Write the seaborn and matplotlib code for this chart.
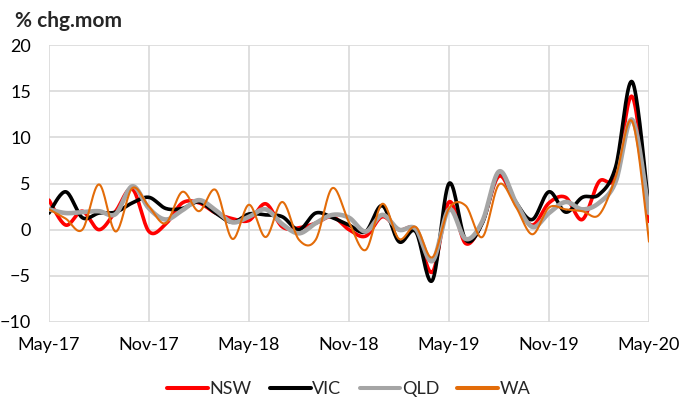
import numpy as np
import pandas as pd
import matplotlib
matplotlib.use('Agg')
import matplotlib.pyplot as plt
import seaborn as sns

# monthly % change, May-17 .. May-20
months = list(range(37))
tick_pos = [0, 6, 12, 18, 24, 30, 36]
tick_labels = ['May-17', 'Nov-17', 'May-18', 'Nov-18', 'May-19', 'Nov-19', 'May-20']

nsw = [3.2, 0.5, 2.0, 0.0, 2.0, 4.4, -0.2, 0.6, 2.9, 2.9,
       1.8, 1.2, 1.0, 2.8, 0.3, 0.2, 0.7, 1.4, 0.0, -0.7,
       1.4, 0.0, 0.0, -4.6, 3.0, -1.5, 0.8, 5.8, 2.8, 0.5,
       2.9, 3.5, 1.1, 5.2, 5.7, 14.4, 0.9]
vic = [1.8, 4.1, 1.3, 1.8, 1.9, 2.9, 3.5, 2.3, 2.3, 3.0,
       1.8, 0.8, 1.7, 1.6, 1.4, 0.0, 1.8, 1.3, 0.5, -0.2,
       2.6, -1.3, -0.2, -5.5, 5.0, -1.1, 0.7, 6.2, 3.0, 1.1,
       4.1, 1.9, 3.5, 3.8, 6.8, 16.0, 2.2]
qld = [2.2, 1.8, 1.9, 2.0, 1.7, 4.7, 2.3, 1.1, 2.1, 3.2,
       2.1, 0.8, 1.4, 2.2, 0.6, -0.4, 0.7, 1.6, 1.3, -0.2,
       1.6, 0.0, 0.1, -3.4, 2.2, -1.0, 0.9, 6.3, 3.0, 0.3,
       1.8, 3.0, 2.2, 2.9, 5.2, 11.9, 1.8]
wa = [2.2, 1.2, 0.0, 4.9, -0.2, 4.5, 2.5, 0.7, 4.1, 2.0,
      4.3, -1.0, 2.7, -0.8, 3.0, -1.1, -1.1, 4.5, 0.8, -2.2,
      2.8, -1.0, 0.3, -3.0, 2.3, 2.6, -0.8, 4.9, 2.5, -0.5,
      2.4, 2.2, 2.0, 1.6, 5.7, 11.7, -1.3]

series = [('NSW', nsw, '#FF0000', 2.6),
          ('VIC', vic, '#000000', 2.6),
          ('QLD', qld, '#A5A5A5', 3.3),
          ('WA', wa, '#E36C09', 1.5)]


def smooth(x, y, n=20):
    # Excel-style smoothed line (Catmull-Rom through the monthly points)
    x = np.asarray(x, float)
    y = np.asarray(y, float)
    xp = np.concatenate([[x[0]], x, [x[-1]]])
    yp = np.concatenate([[y[0]], y, [y[-1]]])
    xs, ys = [], []
    t = np.linspace(0, 1, n, endpoint=False)
    for i in range(1, len(xp) - 2):
        for arr, out in ((xp, xs), (yp, ys)):
            p0, p1, p2, p3 = arr[i - 1], arr[i], arr[i + 1], arr[i + 2]
            c1 = p1 + (p2 - p0) / 6
            c2 = p2 - (p3 - p1) / 6
            out.extend((1 - t) ** 3 * p1 + 3 * (1 - t) ** 2 * t * c1
                       + 3 * (1 - t) * t ** 2 * c2 + t ** 3 * p2)
    xs.append(x[-1])
    ys.append(y[-1])
    return np.array(xs), np.array(ys)


sns.set_style('white')
plt.rcParams['font.family'] = ['Lato', 'DejaVu Sans']

fig = plt.figure(figsize=(6.83, 3.99), dpi=100)
ax = fig.add_axes([49 / 683, 1 - 322 / 399, 600 / 683, 277 / 399])

for name, vals, col, lw in series:
    xs, ys = smooth(months, vals)
    sns.lineplot(x=xs, y=ys, color=col, linewidth=lw, label=name, ax=ax,
                 estimator=None, sort=False)

ax.set_xlim(0, 36)
ax.set_ylim(-10, 20)
ax.set_yticks(range(-10, 21, 5))
ax.set_xticks(tick_pos)
ax.set_xticklabels(tick_labels)
ax.grid(True, color='#D9D9D9', linewidth=1.2)
ax.set_axisbelow(True)
for s in ax.spines.values():
    s.set_visible(False)
ax.tick_params(axis='both', length=0, labelsize=13, colors='black')
ax.tick_params(axis='y', pad=13)
ax.tick_params(axis='x', pad=11)

fig.text(15 / 683, 1 - 21 / 399, '% chg.mom', fontsize=15, fontweight='bold',
         va='center', ha='left')

ax.legend(loc='center', bbox_to_anchor=(349 / 683, 1 - 389 / 399),
          bbox_transform=fig.transFigure, ncol=4, frameon=False, fontsize=13,
          handlelength=2.25, handletextpad=0.1, columnspacing=1.0)
for line in ax.get_legend().get_lines():
    line.set_linewidth(2.9)

fig.savefig('out.png', dpi=100)
